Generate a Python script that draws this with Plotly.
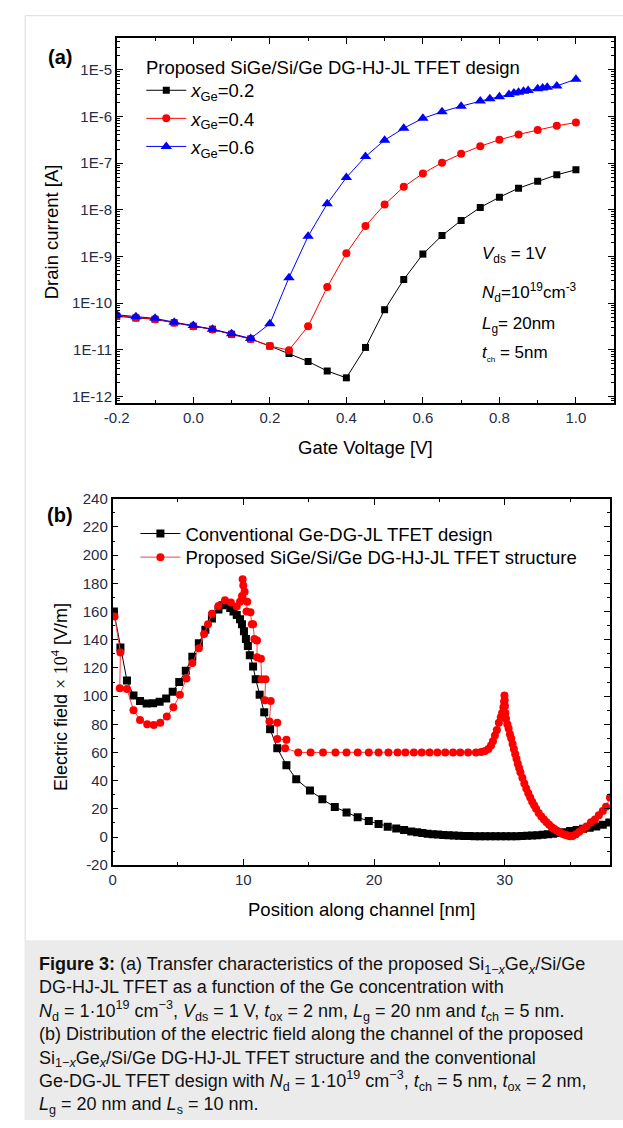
import plotly.graph_objects as go

W, H = 623, 1128


def fx(px):
    return px / W


def fy(py):
    return 1 - py / H


# ---------------- (a) transfer characteristics ----------------
vg = [-0.2, -0.15, -0.1, -0.05, 0.0, 0.05, 0.1, 0.15, 0.2, 0.25, 0.3, 0.35, 0.4,
      0.45, 0.5, 0.55, 0.6, 0.65, 0.7, 0.75, 0.8, 0.85, 0.9, 0.95, 1.0]

id_x02 = [5.2e-11, 4.8e-11, 4.5e-11, 3.8e-11, 3.2e-11, 2.75e-11, 2.15e-11, 1.7e-11,
          1.2e-11, 8.3e-12, 5.6e-12, 3.5e-12, 2.5e-12, 1.12e-11, 7.2e-11, 3.2e-10,
          1.12e-9, 2.8e-9, 5.9e-9, 1.12e-8, 1.86e-8, 2.9e-8, 4.1e-8, 5.6e-8, 7.2e-8]

id_x04 = [5.4e-11, 4.9e-11, 4.5e-11, 3.8e-11, 3.2e-11, 2.7e-11, 2.15e-11, 1.7e-11,
          1.2e-11, 9.8e-12, 3.2e-11, 2.2e-10, 1.17e-9, 4.5e-9, 1.29e-8, 3.1e-8,
          6.0e-8, 1.02e-7, 1.58e-7, 2.3e-7, 3.16e-7, 4.1e-7, 5.1e-7, 6.3e-7, 7.4e-7]

vg_06 = [-0.2, -0.15, -0.1, -0.05, 0.0, 0.05, 0.1, 0.15, 0.2, 0.25, 0.3, 0.35, 0.4,
         0.45, 0.5, 0.55, 0.6, 0.65, 0.7, 0.75, 0.775, 0.8, 0.825, 0.838, 0.85,
         0.863, 0.875, 0.9, 0.913, 0.925, 0.95, 1.0]

id_x06 = [5.6e-11, 5.1e-11, 4.7e-11, 3.9e-11, 3.3e-11, 2.75e-11, 2.2e-11, 1.75e-11,
          3.6e-11, 3.5e-10, 2.7e-9, 1.35e-8, 4.9e-8, 1.38e-7, 3.1e-7, 5.6e-7,
          9.1e-7, 1.26e-6, 1.66e-6, 2.14e-6, 2.4e-6, 2.63e-6, 2.95e-6, 3.16e-6,
          3.3e-6, 3.45e-6, 3.6e-6, 3.9e-6, 4.07e-6, 4.2e-6, 4.5e-6, 6.3e-6]

decade_ticks = [1e-12, 1e-11, 1e-10, 1e-9, 1e-8, 1e-7, 1e-6, 1e-5]
decade_labels = ["1E-12", "1E-11", "1E-10", "1E-9", "1E-8", "1E-7", "1E-6", "1E-5"]

vg_ticks = [-0.2, 0.0, 0.2, 0.4, 0.6, 0.8, 1.0]
vg_labels = ["-0.2", "0.0", "0.2", "0.4", "0.6", "0.8", "1.0"]

# ---------------- (b) electric field along the channel ----------------
pos_conv = [0.1, 0.6, 1.1, 1.6, 2.1, 2.6, 3.1, 3.6, 4.1, 4.6, 5.1, 5.6, 6.1, 6.6,
            7.1, 7.6, 8.1, 8.4, 8.7, 9.0, 9.25, 9.5, 9.75, 9.9, 10.05, 10.2, 10.35,
            10.5, 10.75, 10.95, 11.25, 11.6, 12.05, 12.6, 13.3, 14.05, 15.1, 16.05,
            17.0, 17.9, 18.75, 19.6, 20.35, 21.05, 21.7, 22.3, 22.85, 23.3, 23.7,
            24.1, 24.5, 24.9, 25.3, 25.7, 26.1, 26.5, 26.9, 27.3, 27.7, 28.1, 28.5,
            28.9, 29.3, 29.7, 30.1, 30.5, 30.9, 31.3, 31.7, 32.1, 32.5, 32.9, 33.3,
            33.7, 34.1, 34.5, 35.0, 35.5, 36.0, 36.5, 37.0, 37.5, 38.0]

field_conv = [160, 134.5, 111, 100.5, 96.5, 94.8, 95, 96, 98.3, 103, 110, 118, 128,
              137.5, 147, 155, 161.5, 164.5, 165.5, 162.5, 160, 157.5, 154.5, 151,
              146, 140.5, 135.5, 129, 121, 112, 101, 88.5, 76.5, 63, 51, 41, 33,
              26.8, 21.3, 17.4, 14, 11.3, 9.3, 7.2, 6, 5, 4, 3.3, 2.8, 2.3, 2, 1.7,
              1.4, 1.2, 1, 0.9, 0.8, 0.7, 0.6, 0.5, 0.5, 0.5, 0.5, 0.5, 0.5, 0.5,
              0.6, 0.7, 0.9, 1.1, 1.3, 1.6, 1.9, 2.3, 2.8, 3.4, 4.2, 5, 5.8, 6.5,
              7.5, 8.7, 10.3]

pos_prop = [0.15, 0.6, 0.55, 1.1, 1.6, 2.1, 2.65, 3.15, 3.65, 4.15, 4.65, 5.15, 5.65,
            6.1, 6.6, 7.0, 7.3, 7.6, 8.1, 8.6, 9.05, 9.5, 9.75, 9.9, 9.95, 10.0, 10.1,
            9.95, 10.3, 10.25, 10.55, 10.65, 10.75, 10.85, 11.05, 11.05, 11.35, 11.4,
            11.7, 11.65, 12.1, 12.0, 12.6, 12.6, 13.3, 13.2, 14.2, 15.15, 16.1, 17.05,
            17.9, 18.75, 19.6, 20.35, 21.1, 21.8, 22.4, 23.05, 23.65, 24.25, 24.85,
            25.45, 26.05, 26.6, 27.2, 27.8, 28.2, 28.5, 28.75, 28.95, 29.1, 29.25,
            29.4, 29.55, 29.7, 29.8, 29.9, 29.95, 29.98, 30.0, 30.02, 30.05, 30.1,
            30.2, 30.3, 30.4, 30.5, 30.6, 30.7, 30.8, 30.9, 31.0, 31.1, 31.2, 31.35,
            31.5, 31.65, 31.8, 31.95, 32.1, 32.25, 32.4, 32.6, 32.8, 33.0, 33.2, 33.4,
            33.6, 33.8, 34.0, 34.2, 34.4, 34.6, 34.8, 35.0, 35.2, 35.45, 35.7, 35.95,
            36.25, 36.6, 36.9, 37.2, 37.5, 37.75, 38.05]

field_prop = [156.5, 131, 105.5, 105, 90, 83, 80, 79.5, 81, 85.5, 92, 101, 112.5,
              123.5, 134, 144, 151, 158.5, 164, 168, 166.5, 163.5, 167, 171, 183,
              178.5, 174, 169.5, 167, 160, 159.5, 151, 151, 140.5, 139.5, 127.5, 126.5,
              112, 112, 97, 96.5, 82, 81, 69.5, 69, 63, 60, 60, 60, 60, 60, 60, 60, 60,
              60, 60, 60, 60, 60, 60, 60, 60, 60, 60, 60, 60, 60.3, 61, 62.5, 65, 68,
              72, 76, 81, 85, 88, 92, 96, 100.5, 97, 93, 88, 84, 80, 77, 73, 70, 66,
              62.5, 59, 55.5, 52, 49, 46, 42, 38, 34.5, 31, 28, 25, 22.5, 20, 17, 14.5,
              12.5, 10.5, 8.7, 7, 5.7, 4.4, 3.3, 2.4, 1.6, 1, 0.5, 0.7, 2, 3.8, 5.5,
              7.5, 10.5, 12.5, 15.5, 18.5, 21.5, 28]

field_ticks = list(range(-20, 241, 20))
field_labels = [str(v) for v in field_ticks]

FONT = "Arial, 'Liberation Sans', sans-serif"
TICK_COLOR = "#1f2d48"
LEG_SIZE = 18.5

fig = go.Figure()

# panel (a) curves, one legend box per entry
fig.add_trace(go.Scatter(
    x=vg, y=id_x02, mode="lines+markers", name="<i>x</i><sub>Ge</sub>=0.2",
    line=dict(color="black", width=1),
    marker=dict(symbol="square", size=7, color="black"),
    xaxis="x", yaxis="y", legend="legend"))
fig.add_trace(go.Scatter(
    x=vg, y=id_x04, mode="lines+markers", name="<i>x</i><sub>Ge</sub>=0.4",
    line=dict(color="#ff0000", width=1),
    marker=dict(symbol="circle", size=8, color="#ff0000"),
    xaxis="x", yaxis="y", legend="legend2"))
fig.add_trace(go.Scatter(
    x=vg_06, y=id_x06, mode="lines+markers", name="<i>x</i><sub>Ge</sub>=0.6",
    line=dict(color="#0000ff", width=1),
    marker=dict(symbol="triangle-up", size=10, color="#0000ff"),
    xaxis="x", yaxis="y", legend="legend3"))

# panel (b) curves
fig.add_trace(go.Scatter(
    x=pos_conv, y=field_conv, mode="lines+markers",
    name="Conventional Ge-DG-JL TFET design",
    line=dict(color="black", width=1),
    marker=dict(symbol="square", size=8, color="black"),
    xaxis="x2", yaxis="y2", legend="legend4"))
fig.add_trace(go.Scatter(
    x=pos_prop, y=field_prop, mode="lines+markers",
    name="Proposed SiGe/Si/Ge DG-HJ-JL TFET structure",
    line=dict(color="#ff3b3b", width=1),
    marker=dict(symbol="circle", size=8, color="#ff0000"),
    xaxis="x2", yaxis="y2", legend="legend5"))

axis_common = dict(
    showline=True, linecolor="black", linewidth=1.5, mirror="allticks",
    ticks="inside", ticklen=6, tickwidth=1.2, tickcolor="black",
    showgrid=False, zeroline=False,
    tickfont=dict(family=FONT, size=15, color=TICK_COLOR),
)

minor_log = [k * 10.0 ** e for e in range(-13, -4) for k in range(2, 10)]


def legend_box(px, py):
    return dict(x=fx(px), y=fy(py), xanchor="left", yanchor="middle",
                bgcolor="rgba(0,0,0,0)", borderwidth=0, itemwidth=40,
                font=dict(family=FONT, size=LEG_SIZE, color="black"))


fig.update_layout(
    width=W, height=H,
    margin=dict(l=0, r=0, t=0, b=0),
    paper_bgcolor="white", plot_bgcolor="white",
    font=dict(family=FONT, color="black"),
    showlegend=True,
    xaxis=dict(
        domain=[fx(106), fx(614)], anchor="y", range=[-0.2, 1.1],
        tickvals=vg_ticks, ticktext=vg_labels,
        minor=dict(ticks="inside", ticklen=3, tickcolor="black",
                   tickvals=[-0.1, 0.1, 0.3, 0.5, 0.7, 0.9, 1.1]),
        **axis_common),
    yaxis=dict(
        domain=[fy(400), fy(29.3)], anchor="x", type="log",
        range=[-12.141, -4.316],
        tickvals=decade_ticks, ticktext=decade_labels,
        minor=dict(ticks="inside", ticklen=3, tickcolor="black",
                   tickvals=minor_log),
        **axis_common),
    xaxis2=dict(
        domain=[fx(101.7), fx(609.8)], anchor="y2", range=[0, 38.06],
        tickvals=[0, 10, 20, 30], ticktext=["0", "10", "20", "30"],
        minor=dict(ticks="inside", ticklen=3, tickcolor="black",
                   tickvals=[5, 15, 25, 35]),
        **axis_common),
    yaxis2=dict(
        domain=[fy(869.3), fy(497.3)], anchor="x2", range=[-20, 240],
        tickvals=field_ticks, ticktext=field_labels,
        minor=dict(ticks="inside", ticklen=3, tickcolor="black",
                   tickvals=list(range(-10, 240, 20))),
        **axis_common),
    legend=legend_box(131, 83),
    legend2=legend_box(131, 111.5),
    legend3=legend_box(131, 140),
    legend4=legend_box(125, 533),
    legend5=legend_box(125, 557),
)

# page frame and caption panel
fig.add_shape(type="line", xref="paper", yref="paper",
              x0=fx(12.5), x1=1, y0=fy(6.7), y1=fy(6.7),
              line=dict(color="#e2e2e2", width=1.2), layer="below")
fig.add_shape(type="line", xref="paper", yref="paper",
              x0=fx(12.5), x1=fx(12.5), y0=fy(6.7), y1=0,
              line=dict(color="#e2e2e2", width=1.2), layer="below")
fig.add_shape(type="rect", xref="paper", yref="paper",
              x0=fx(12.5), x1=1, y0=0, y1=fy(945.5),
              fillcolor="#ebebeb", line=dict(width=0), layer="below")

ann = []


def label(text, px, py, size, xanchor="center", yanchor="middle", angle=0,
          align="left", color="black"):
    ann.append(dict(text=text, x=fx(px), y=fy(py), xref="paper", yref="paper",
                    showarrow=False, xanchor=xanchor, yanchor=yanchor,
                    textangle=angle, align=align,
                    font=dict(family=FONT, size=size, color=color)))


# panel tags
label("<b>(a)</b>", 48, 49, 20)
label("<b>(b)</b>", 48, 514, 20)

# legend heading of panel (a)
label("Proposed SiGe/Si/Ge DG-HJ-JL TFET design", 134, 59.5, LEG_SIZE, xanchor="left")

# axis titles
label("Gate Voltage [V]", 360, 445, 18.5)
label("Drain current [A]", 39, 226.5, 18.5, angle=-90)
label("Position along channel [nm]", 356, 914, 18.5)
label("Electric field <span style='font-family:Liberation Serif, Times New Roman, serif'>"
      "× 10<sup>4</sup></span> [V/m]", 47.5, 699, 18, angle=-90)

# device parameters in panel (a)
label("<i>V</i><sub>ds</sub> = 1V", 477, 250, 17, xanchor="left")
label("<i>N</i><sub>d</sub>=10<sup>19</sup>cm<sup>-3</sup>", 477, 288, 17, xanchor="left")
label("<i>L</i><sub>g</sub>= 20nm", 477, 321, 17, xanchor="left")
label("<i>t</i><sub><span style='font-size:8px'>ch</span></sub> = 5nm", 477, 350, 17,
      xanchor="left")

# figure caption
caption = (
    "<b>Figure 3:</b> (a) Transfer characteristics of the proposed "
    "Si<sub>1−<i>x</i></sub>Ge<sub><i>x</i></sub>/Si/Ge<br>"
    "DG-HJ-JL TFET as a function of the Ge concentration with<br>"
    "<i>N</i><sub>d</sub> = 1·10<sup>19</sup> cm<sup>−3</sup>, <i>V</i><sub>ds</sub> = 1 V, "
    "<i>t</i><sub>ox</sub> = 2 nm, <i>L</i><sub>g</sub> = 20 nm and <i>t</i><sub>ch</sub> = 5 nm.<br>"
    "(b) Distribution of the electric field along the channel of the proposed<br>"
    "Si<sub>1−<i>x</i></sub>Ge<sub><i>x</i></sub>/Si/Ge DG-HJ-JL TFET structure and the conventional<br>"
    "Ge-DG-JL TFET design with <i>N</i><sub>d</sub> = 1·10<sup>19</sup> cm<sup>−3</sup>, "
    "<i>t</i><sub>ch</sub> = 5 nm, <i>t</i><sub>ox</sub> = 2 nm,<br>"
    "<i>L</i><sub>g</sub> = 20 nm and <i>L</i><sub>s</sub> = 10 nm."
)
label(caption, 25, 1042, 18, xanchor="left", color="#111111")

fig.update_layout(annotations=ann)

fig.write_html("out.html")
